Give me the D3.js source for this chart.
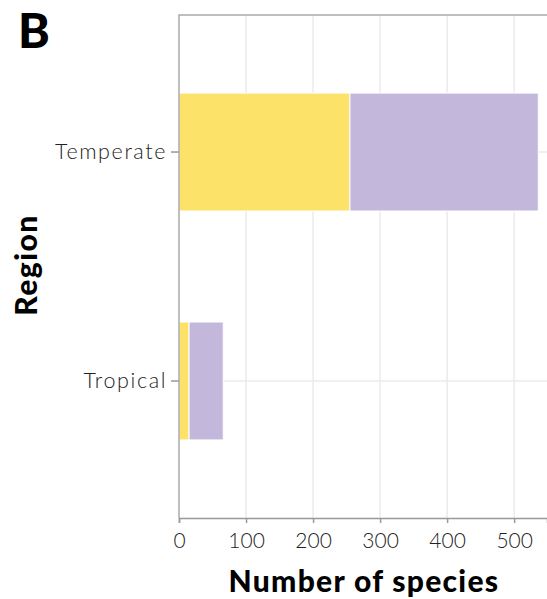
<!DOCTYPE html>
<html><head><meta charset="utf-8">
<script src="https://cdn.jsdelivr.net/npm/d3@7"></script>
<style>body{margin:0;background:#fff}</style>
</head><body>
<svg id="c" width="547" height="599"></svg>
<script>
const categories = ["Temperate", "Tropical"];
const seriesNames = ["Group A", "Group B"];
const seriesA = [255, 15];
const seriesB = [281, 51];
const xTicks = [0, 100, 200, 300, 400, 500];

const colors = ["#FDE26A", "#C3B8DB"];
const svg = d3.select("#c");
const m = {l: 179, t: 15, r: 0, b: 81};
const W = 547, H = 599;
const x = d3.scaleLinear().domain([0, 549]).range([m.l, W - m.r]);
const y = d3.scaleBand().domain(categories).range([m.t, H - m.b]).paddingInner(0.485).paddingOuter(0.341);

const font = "Lato, 'Open Sans', sans-serif";
// gridlines
svg.append("g").selectAll("line.v").data(xTicks.slice(1)).join("line")
  .attr("x1", d => x(d)).attr("x2", d => x(d)).attr("y1", m.t).attr("y2", H - m.b)
  .attr("stroke", "#ebebeb").attr("stroke-width", 1.5);
svg.append("g").selectAll("line.h").data(categories).join("line")
  .attr("x1", m.l).attr("x2", W).attr("y1", d => y(d) + y.bandwidth()/2).attr("y2", d => y(d) + y.bandwidth()/2)
  .attr("stroke", "#ebebeb").attr("stroke-width", 1.5);

// stacked bars
const rows = categories.map((c, i) => ({cat: c, a: seriesA[i], b: seriesB[i]}));
const stack = d3.stack().keys(["a", "b"])(rows);
svg.append("g").selectAll("g").data(stack).join("g").attr("fill", (d, i) => colors[i])
  .selectAll("rect").data(d => d).join("rect")
  .attr("x", d => x(d[0])).attr("width", d => x(d[1]) - x(d[0]))
  .attr("y", d => y(d.data.cat)).attr("height", y.bandwidth())
  .attr("stroke", "#fff").attr("stroke-width", 1);

// frame
svg.append("path").attr("d", `M${m.l},${H-m.b}V${m.t}H${W}`).attr("fill", "none").attr("stroke", "#aaa").attr("stroke-width", 1.5);

// axes
const xa = svg.append("g").attr("transform", `translate(0,${H - m.b})`)
  .call(d3.axisBottom(x).tickValues(xTicks).tickSize(5).tickPadding(10));
xa.select(".domain").attr("stroke", "#999").attr("stroke-width", 1.5);
xa.selectAll(".tick line").attr("stroke", "#999").attr("stroke-width", 1.5);
xa.selectAll("text").attr("font-family", font).attr("font-size", 21).attr("font-weight", 300).attr("fill", "#222");

const ya = svg.append("g").attr("transform", `translate(${m.l},0)`)
  .call(d3.axisLeft(y).tickSize(8).tickPadding(4));
ya.select(".domain").remove();
ya.selectAll(".tick line").attr("stroke", "#999").attr("stroke-width", 1.5);
ya.selectAll("text").attr("font-family", font).attr("font-size", 21.5).attr("font-weight", 300).attr("fill", "#222").attr("letter-spacing", 1.6);

// titles
svg.append("text").attr("x", 364).attr("y", 592).attr("text-anchor", "middle")
  .attr("font-family", font).attr("font-weight", 900).attr("font-size", 30).attr("letter-spacing", 1.3).text("Number of species");
svg.append("text").attr("transform", `translate(37,265) rotate(-90)`).attr("text-anchor", "middle")
  .attr("font-family", font).attr("font-weight", 900).attr("font-size", 30).attr("letter-spacing", 1.5).text("Region");
svg.append("text").attr("x", 18).attr("y", 48).attr("font-family", font).attr("font-weight", 900).attr("font-size", 48).text("B");
</script>
</body></html>
